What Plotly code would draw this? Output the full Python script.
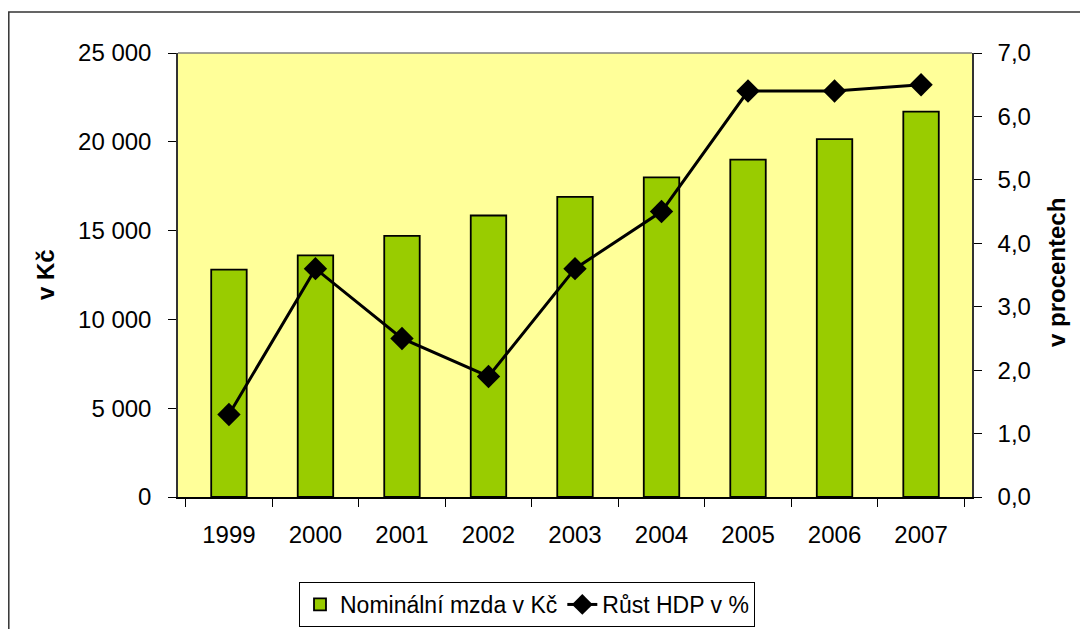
import plotly.graph_objects as go

years = ["1999", "2000", "2001", "2002", "2003", "2004", "2005", "2006", "2007"]
wages = [12800, 13600, 14700, 15850, 16900, 18000, 19000, 20150, 21700]
gdp_growth = [1.3, 3.6, 2.5, 1.9, 3.6, 4.5, 6.4, 6.4, 6.5]

left_ticks = [0, 5000, 10000, 15000, 20000, 25000]
right_ticks = [0, 1, 2, 3, 4, 5, 6, 7]

bar_name = "Nominální mzda v Kč"
line_name = "Růst HDP v %"
left_title = "v Kč"
right_title = "v procentech"

# page body has an 8px margin; work in screen coordinates and shift
OFF = 8
W, H = 1088 - OFF, 629 - OFF
SL, ST, SR, SB = 178, 53, 972, 497          # plot area in screen px
L, T = SL - OFF, ST - OFF
R, B = W - (SR - OFF), H - (SB - OFF)
pw, ph = SR - SL, SB - ST

def px_x(p):
    return (p - SL) / pw

def px_y(p):
    return (SB - p) / ph

def cont_y(p):
    return (H - (p - OFF)) / H

FONT = "Liberation Sans, Arial, sans-serif"

fig = go.Figure()
fig.add_trace(go.Bar(
    x=years, y=wages, name=bar_name,
    marker=dict(color="#99CC00", line=dict(color="black", width=1.8)),
    yaxis="y",
))
fig.add_trace(go.Scatter(
    x=years, y=gdp_growth, name=line_name, mode="lines+markers",
    line=dict(color="black", width=3),
    marker=dict(symbol="diamond", size=18, color="black"),
    yaxis="y2",
))

fig.update_layout(
    width=W, height=H,
    margin=dict(l=L, r=R, t=T, b=B, pad=0, autoexpand=False),
    paper_bgcolor="white",
    plot_bgcolor="#FFFF99",
    separators=", ",
    font=dict(family=FONT, size=24, color="black"),
    bargap=0.59,
    showlegend=True,
    legend=dict(
        orientation="h", x=px_x(527), xanchor="center",
        yref="container", y=cont_y(582), yanchor="top",
        bordercolor="black", borderwidth=1, bgcolor="white",
        font=dict(family=FONT, size=23),
        tracegroupgap=0,
    ),
    xaxis=dict(
        type="category", showgrid=False, showline=True, linecolor="black", linewidth=1.5,
        ticks="outside", ticklen=8, tickcolor="black", tickson="boundaries",
        tickfont=dict(size=24), ticklabelstandoff=15,
    ),
    yaxis=dict(
        range=[0, 25000], tickvals=left_ticks, tickformat=",d",
        showgrid=False, showline=True, linecolor="#333333", linewidth=1.5,
        ticks="outside", ticklen=8, tickcolor="black",
        tickfont=dict(size=24), zeroline=False, ticklabelstandoff=12,
    ),
    yaxis2=dict(
        range=[0, 7], tickvals=right_ticks, tickformat=".1f",
        overlaying="y", side="right",
        showgrid=False, showline=True, linecolor="#333333", linewidth=1.5,
        ticks="outside", ticklen=8, tickcolor="black",
        tickfont=dict(size=24), zeroline=False, ticklabelstandoff=11,
    ),
    shapes=[
        dict(type="line", xref="paper", yref="paper", x0=0, x1=1, y0=1, y1=1,
             line=dict(color="#808080", width=1.5)),
        dict(type="rect", xref="paper", yref="paper",
             x0=px_x(8.8), x1=px_x(1100), y0=px_y(12), y1=px_y(660),
             line=dict(color="#333333", width=1.5), fillcolor="rgba(0,0,0,0)"),
    ],
    annotations=[
        dict(text="<b>" + left_title + "</b>", xref="paper", yref="paper",
             x=px_x(45), y=px_y(275), textangle=-90, showarrow=False,
             font=dict(size=24), xanchor="center", yanchor="middle"),
        dict(text="<b>" + right_title + "</b>", xref="paper", yref="paper",
             x=px_x(1056), y=px_y(273), textangle=-90, showarrow=False,
             font=dict(size=24), xanchor="center", yanchor="middle"),
    ],
)

fig.write_html("out.html")
